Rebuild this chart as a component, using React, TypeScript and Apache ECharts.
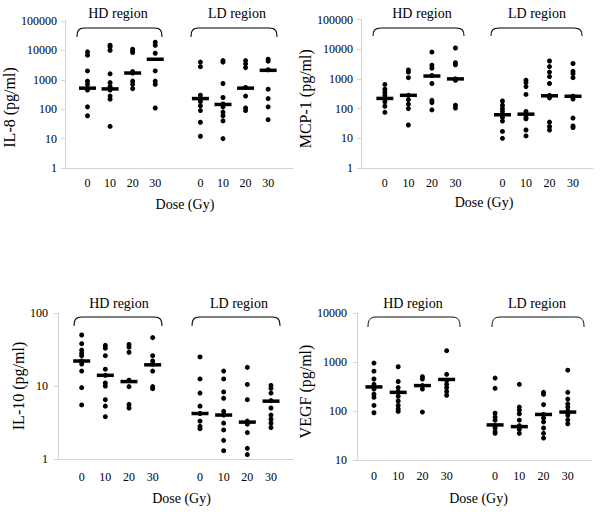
import React, { useEffect, useRef } from 'react';
import * as echarts from 'echarts';

// ---------- data ----------
const doseLabels = ['0', '10', '20', '30'];
const groupPos = [1, 2, 3, 4, 6, 7, 8, 9];
const regionTitles = ['HD region', 'LD region'];
const xTitle = 'Dose (Gy)';
const yTitles = ['IL-8 (pg/ml)', 'MCP-1 (pg/ml)', 'IL-10 (pg/ml)', 'VEGF (pg/ml)'];

const il8HD = [
  [8900, 6900, 2000, 900, 700, 500, 450, 120, 60],
  [15000, 13000, 10000, 1600, 800, 600, 450, 280, 220, 26],
  [11000, 9500, 8500, 1900, 1700, 900, 700, 500],
  [19000, 15000, 8000, 2000, 900, 700, 110],
];
const il8LD = [
  [4000, 2800, 300, 220, 180, 130, 90, 36, 12],
  [4500, 4000, 750, 250, 150, 120, 80, 60, 40, 10],
  [4500, 3500, 2600, 550, 280, 110, 90],
  [5000, 4300, 2200, 480, 230, 120, 44],
];
const il8Med = [520, 490, 1700, 5000, 230, 145, 520, 2100];

const mcpHD = [
  [650, 450, 350, 280, 220, 170, 120, 75],
  [2000, 1700, 1100, 280, 200, 140, 100, 28],
  [8000, 2900, 2300, 1300, 700, 190, 160, 90],
  [11000, 3500, 3000, 1000, 900, 130, 105],
];
const mcpLD = [
  [180, 130, 100, 80, 62, 50, 38, 17, 10],
  [900, 750, 550, 300, 80, 65, 50, 45, 19, 12],
  [4000, 2600, 1700, 1200, 700, 280, 230, 35, 25, 19],
  [3300, 1800, 1500, 1100, 260, 210, 48, 26, 23],
];
const mcpMed = [220, 280, 1250, 1000, 62, 65, 270, 260];

const il10HD = [
  [50, 38, 31, 28, 26, 22, 20, 16, 9.5, 5.5],
  [36, 33, 26, 17, 14, 11, 10, 6.5, 5.3, 3.8],
  [37, 34, 29, 12, 9.8, 5.6, 5.0],
  [46, 26, 22, 20, 16, 9.8, 9.2],
];
const il10LD = [
  [25, 12.5, 8, 5.3, 4.2, 3.3, 2.8, 2.6],
  [16, 12.5, 8.3, 6.8, 4.5, 4, 3.1, 2.5, 1.8, 1.3],
  [18, 10.5, 6.5, 3.3, 3, 2.3, 1.4, 1.15],
  [10.2, 9.3, 8, 6.3, 5, 4, 3.5, 3.1, 2.7],
];
const il10Med = [22, 14, 11.5, 19.5, 4.2, 4, 3.2, 6.2];

const vegfHD = [
  [950, 650, 450, 350, 280, 220, 190, 130, 92],
  [800, 400, 300, 250, 200, 160, 130, 110, 98],
  [500, 450, 330, 280, 95],
  [1700, 560, 420, 350, 300, 250, 210],
];
const vegfLD = [
  [470, 290, 90, 75, 65, 50, 45, 38, 35],
  [350, 120, 105, 88, 65, 50, 42, 35],
  [240, 220, 135, 85, 72, 60, 45, 35, 28],
  [680, 240, 175, 140, 120, 100, 82, 66, 55],
];
const vegfMed = [310, 240, 330, 440, 52, 48, 85, 95];

const panelGroups = [
  [...il8HD, ...il8LD],
  [...mcpHD, ...mcpLD],
  [...il10HD, ...il10LD],
  [...vegfHD, ...vegfLD],
];
const panelMedians = [il8Med, mcpMed, il10Med, vegfMed];

// ---------- layout ----------
const FONT = 'Liberation Serif';
const layouts = [
  { left: 59, top: 21, width: 234, height: 147, xMin: 0, xMax: 10.1, yMin: 1, yMax: 100000, nameGap: 38, nameShift: 13, xNameGap: 29, xShift: 6, xMargin: 9, yMargin: 8,
    titles: [[118, 13], [237, 13]], brackets: [[77, 28, 85, 9], [191, 28, 86, 9]] },
  { left: 359, top: 19.5, width: 234, height: 148.5, xMin: -0.1, xMax: 9.85, yMin: 1, yMax: 100000, nameGap: 38, nameShift: 5, xNameGap: 27, xShift: 8, xMargin: 9, yMargin: 6,
    titles: [[422, 13], [537, 13]], brackets: [[373, 28, 91, 8], [491, 28, 91, 8]] },
  { left: 58, top: 313, width: 235, height: 146, xMin: 0, xMax: 9.93, yMin: 1, yMax: 100, nameGap: 28, nameShift: 0, xNameGap: 32, xShift: 6, xMargin: 12, yMargin: 10,
    titles: [[119, 303], [239, 303]], brackets: [[74, 317, 88, 9], [192, 317, 88, 9]] },
  { left: 357, top: 313, width: 235, height: 147, xMin: 0.3, xMax: 10, yMin: 10, yMax: 10000, nameGap: 37, nameShift: 5, xNameGap: 31, xShift: 4, xMargin: 10, yMargin: 10,
    titles: [[413, 303], [537, 303]], brackets: [[368, 317, 92, 10], [492, 317, 92, 10]] },
];

echarts.graphic.registerShape(
  'bracket',
  echarts.graphic.extendPath('M0,10 C0,3 2,0 9,0 L91,0 C98,0 100,3 100,10', {}) as any
);

function buildOption() {
  const grid: any[] = [];
  const xAxis: any[] = [];
  const yAxis: any[] = [];
  const series: any[] = [];
  const graphic: any[] = [];
  const title: any[] = [];

  layouts.forEach((L, p) => {
    grid.push({ left: L.left, top: L.top, width: L.width, height: L.height });
    xAxis.push({
      type: 'value', gridIndex: p, min: L.xMin, max: L.xMax,
      name: xTitle, nameLocation: 'middle', nameGap: L.xNameGap,
      nameTextStyle: { fontFamily: FONT, fontSize: 14, color: '#000', padding: [0, 0, 0, L.xShift * 2] },
      axisLine: { show: true, lineStyle: { color: '#d4d4d4', width: 1 } },
      axisTick: { show: false },
      splitLine: { show: false },
      axisLabel: {
        customValues: groupPos,
        margin: L.xMargin,
        fontFamily: FONT, fontSize: 12, color: '#000',
        formatter: (v: number) => {
          const i = groupPos.indexOf(Math.round(v));
          return i >= 0 ? doseLabels[i % 4] : '';
        },
      },
    });
    yAxis.push({
      type: 'log', logBase: 10, gridIndex: p, min: L.yMin, max: L.yMax,
      name: yTitles[p], nameLocation: 'middle', nameGap: L.nameGap,
      nameTextStyle: { fontFamily: FONT, fontSize: 16, color: '#000', padding: [0, L.nameShift * 2, 0, 0] },
      axisLine: { show: true, lineStyle: { color: '#d4d4d4', width: 1 } },
      axisTick: { show: true, inside: false, length: 4, lineStyle: { color: '#d4d4d4' } },
      splitLine: { show: false },
      axisLabel: {
        margin: L.yMargin, fontFamily: FONT, fontSize: 12, color: '#000',
        formatter: (v: number) => String(Math.round(v)),
      },
    });

    const pts: number[][] = [];
    panelGroups[p].forEach((vals, gi) => vals.forEach((v) => pts.push([groupPos[gi], v])));
    series.push({
      type: 'scatter', xAxisIndex: p, yAxisIndex: p, data: pts,
      symbol: 'circle', symbolSize: 5, itemStyle: { color: '#000', opacity: 1 }, silent: true,
    });
    series.push({
      type: 'scatter', xAxisIndex: p, yAxisIndex: p,
      data: panelMedians[p].map((m, gi) => [groupPos[gi], m]),
      symbol: 'rect', symbolSize: [17, 3.5], itemStyle: { color: '#000', opacity: 1 }, silent: true, z: 3,
    });

    L.titles.forEach(([x, y], r) => {
      title.push({
        text: regionTitles[r],
        left: x, top: y - 8, textAlign: 'center', padding: 0,
        textStyle: { fontFamily: FONT, fontSize: 14, fontWeight: 'normal', color: '#000', lineHeight: 16 },
      });
    });
    L.brackets.forEach(([x, y, w, h]) => {
      graphic.push({
        type: 'bracket', x, y, scaleX: w / 100, scaleY: h / 10,
        style: { stroke: '#000', lineWidth: 1, fill: 'none', strokeNoScale: true },
      });
    });
  });

  return {
    animation: false, backgroundColor: '#fff',
    textStyle: { fontFamily: FONT },
    title, grid, xAxis, yAxis, series, graphic,
  };
}

export default function App() {
  const ref = useRef<HTMLDivElement>(null);
  useEffect(() => {
    if (!ref.current) return;
    const chart = echarts.init(ref.current, undefined, { renderer: 'svg' });
    chart.setOption(buildOption() as any);
    return () => chart.dispose();
  }, []);
  return (
    <div
      ref={ref}
      style={{ position: 'fixed', left: 0, top: 0, width: 600, height: 512, background: '#fff' }}
    />
  );
}
